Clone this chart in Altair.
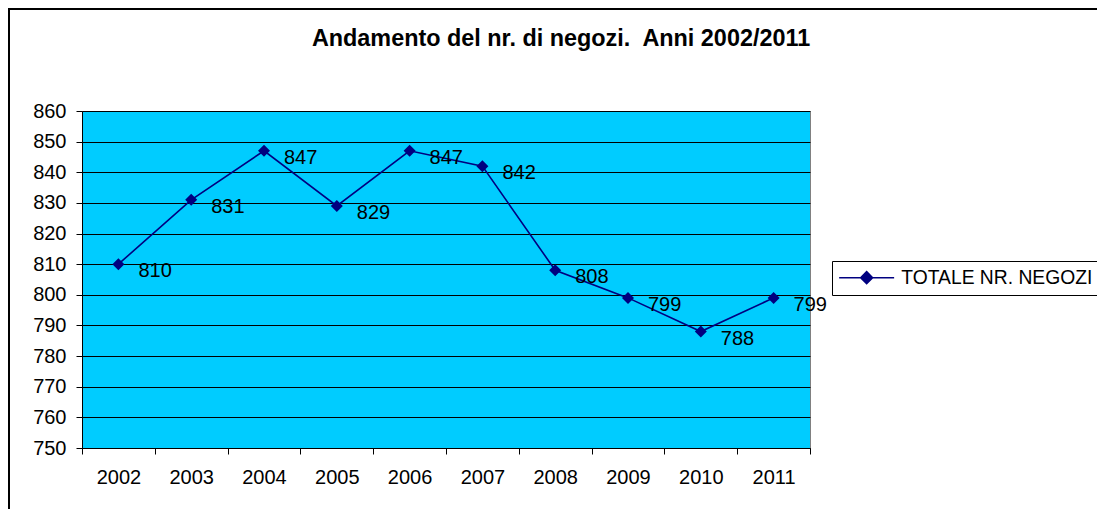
import altair as alt
import pandas as pd

years = ["2002", "2003", "2004", "2005", "2006", "2007", "2008", "2009", "2010", "2011"]
values = [810, 831, 847, 829, 847, 842, 808, 799, 788, 799]
series_name = "TOTALE NR. NEGOZI"
title_text = "Andamento del nr. di negozi.\u00a0 Anni 2002/2011"

df = pd.DataFrame({"anno": years, "negozi": values, "serie": [series_name] * len(years)})

FONT = "Liberation Sans"
NAVY = "#000080"
FS = 20

x_enc = alt.X("anno:O", title=None,
              scale=alt.Scale(paddingInner=0, paddingOuter=0),
              axis=alt.Axis(labelAngle=0, tickBand="extent", tickSize=6, labelPadding=13,
                            domainColor="black", tickColor="black", labelFontSize=FS,
                            labelFont=FONT, labelColor="black", grid=False))
y_enc = alt.Y("negozi:Q", title=None,
              scale=alt.Scale(domain=[750, 860], nice=False, zero=False),
              axis=alt.Axis(values=list(range(750, 861, 10)), tickSize=6, labelPadding=10,
                            domainColor="black", tickColor="black", labelFontSize=FS,
                            labelFont=FONT, labelColor="black",
                            grid=True, gridColor="black", gridWidth=1))

color_enc = alt.Color("serie:N", scale=alt.Scale(range=[NAVY]),
                      legend=alt.Legend(title=None, orient="none", legendX=750, legendY=150,
                                        strokeColor="black", fillColor="white", padding=7,
                                        labelFontSize=19.3, labelFont=FONT, labelColor="black",
                                        labelLimit=400, labelOffset=43,
                                        symbolType="M-1.73,0L8.27,0M3.27,-1.09L4.36,0L3.27,1.09L2.18,0Z",
                                        symbolSize=121, symbolStrokeWidth=1.5,
                                        symbolFillColor=NAVY, symbolStrokeColor=NAVY))

base = alt.Chart(df).encode(x=x_enc, y=y_enc)

line = base.mark_line(color=NAVY, strokeWidth=1.6).encode(color=color_enc)
pts = base.mark_point(shape="diamond", filled=True, size=144, opacity=1).encode(color=color_enc)
labels = base.mark_text(align="left", baseline="middle", dx=20, dy=7, fontSize=FS,
                        font=FONT, color="black").encode(text="negozi:Q")

border = alt.Chart(alt.Data(values=[{}])).mark_rect(
    fillOpacity=0, stroke="black", strokeWidth=2).encode(
    x=alt.value(-73), y=alt.value(-102), x2=alt.value(1200), y2=alt.value(700))

chart = alt.layer(border, line, pts, labels).properties(
    width=728, height=337,
    background="white",
    autosize=alt.AutoSizeParams(type="none"),
    padding={"left": 74, "top": 103, "right": 287, "bottom": 61},
    title=alt.Title(title_text, fontSize=23.4, font=FONT,
                    fontWeight="bold", color="black", anchor="middle", dx=115, offset=-43),
).configure_view(fill="#00CCFF", stroke="#808080", strokeWidth=1)

chart.save("out.html", embed_options={"renderer": "svg", "actions": False})
